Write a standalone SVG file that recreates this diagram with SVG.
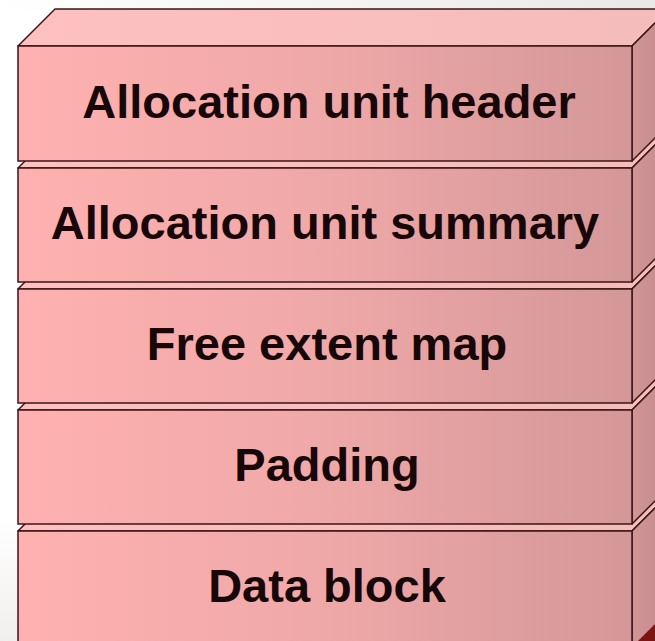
<svg xmlns="http://www.w3.org/2000/svg" width="655" height="641" viewBox="0 0 655 641">
<defs>
<linearGradient id="front" x1="0" y1="0" x2="1" y2="0">
<stop offset="0" stop-color="#ffb1b1"/>
<stop offset="0.5" stop-color="#efa8a8"/>
<stop offset="1" stop-color="#d49798"/>
</linearGradient>
<linearGradient id="top" x1="0" y1="0" x2="1" y2="0">
<stop offset="0" stop-color="#fec0c0"/>
<stop offset="1" stop-color="#f5bcbc"/>
</linearGradient>
<linearGradient id="side" x1="0" y1="0" x2="1" y2="0">
<stop offset="0" stop-color="#cf9597"/>
<stop offset="1" stop-color="#c48a8c"/>
</linearGradient>
<linearGradient id="bgtop" x1="0" y1="0" x2="1" y2="0">
<stop offset="0" stop-color="#ffffff"/>
<stop offset="1" stop-color="#ebe9e7"/>
</linearGradient>
<linearGradient id="bgleft" x1="0" y1="0" x2="0" y2="1">
<stop offset="0" stop-color="#ffffff"/>
<stop offset="1" stop-color="#f1efed"/>
</linearGradient>
</defs>
<style>
.top{fill:url(#top);stroke:#3b1515;stroke-width:1.5;stroke-linejoin:round}
.front{fill:url(#front);stroke:#3b1515;stroke-width:1.5}
.side{fill:url(#side);stroke:#3b1515;stroke-width:1.5;stroke-linejoin:round}
.lbl{font-family:"Liberation Sans",Arial,sans-serif;font-weight:bold;font-size:47px;fill:#170707;text-anchor:middle}
</style>
<rect x="0" y="0" width="655" height="641" fill="#ffffff"/>
<rect x="0" y="0" width="655" height="9" fill="url(#bgtop)"/>
<rect x="0" y="520" width="18" height="121" fill="url(#bgleft)"/>

<g id="data-block">
<polygon class="top" points="18,531 55,494 669,494 632,531"/>
<polygon class="side" points="632,531 669,494 669,680 632,717"/>
<rect class="front" x="18" y="531" width="614" height="130"/>
<text class="lbl" x="327" y="602">Data block</text>
</g>
<g id="padding">
<polygon class="top" points="18,410 55,373 669,373 632,410"/>
<polygon class="side" points="632,410 669,373 669,487 632,524"/>
<rect class="front" x="18" y="410" width="614" height="114"/>
<text class="lbl" x="327" y="481">Padding</text>
</g>
<g id="free-extent-map">
<polygon class="top" points="18,289 55,252 669,252 632,289"/>
<polygon class="side" points="632,289 669,252 669,366 632,403"/>
<rect class="front" x="18" y="289" width="614" height="114"/>
<text class="lbl" x="327" y="360">Free extent map</text>
</g>
<g id="allocation-unit-summary">
<polygon class="top" points="18,168 55,131 669,131 632,168"/>
<polygon class="side" points="632,168 669,131 669,245 632,282"/>
<rect class="front" x="18" y="168" width="614" height="114"/>
<text class="lbl" x="325" y="239">Allocation unit summary</text>
</g>
<g id="allocation-unit-header">
<polygon class="top" points="18,46 55,9 669,9 632,46"/>
<polygon class="side" points="632,46 669,9 669,124 632,161"/>
<rect class="front" x="18" y="46" width="614" height="115"/>
<text class="lbl" x="329" y="118">Allocation unit header</text>
</g>
<polygon points="638,641 655,624 655,641" fill="#7d1414"/>
</svg>
